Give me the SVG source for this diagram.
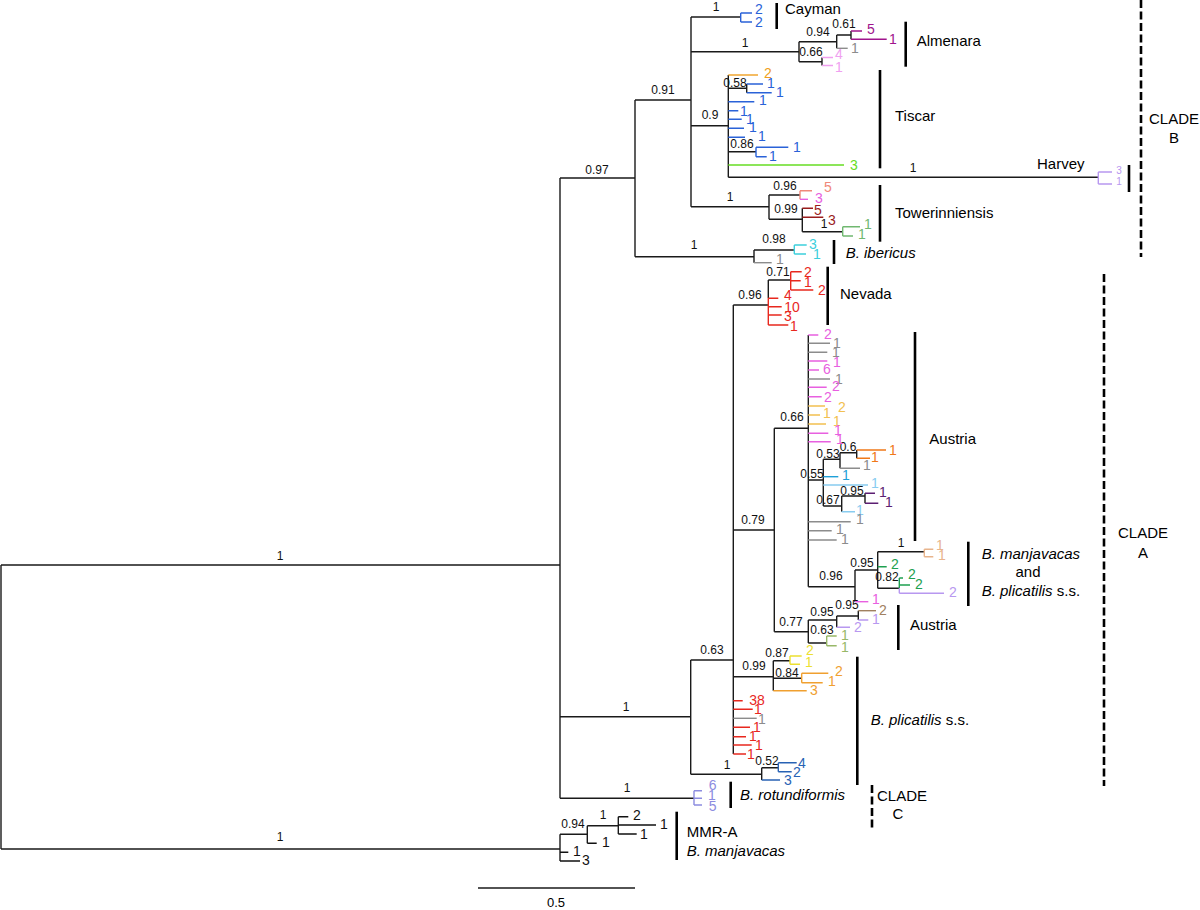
<svg xmlns="http://www.w3.org/2000/svg" width="1200" height="910" viewBox="0 0 1200 910">
<style>
path{fill:none !important}
text{stroke:none !important;font-family:"Liberation Sans",Arial,sans-serif}
.e{stroke:#1a1a1a;stroke-width:1.4}
.bar{stroke:#000;stroke-width:2.6}
.dash{stroke:#000;stroke-width:2.6;stroke-dasharray:8 3.5}
.s{font-size:12px;text-anchor:middle;fill:#111}
.t{font-size:14px;text-anchor:middle}
.h{font-size:10px;text-anchor:middle}
.l{font-size:15px;fill:#000}
.m{text-anchor:middle}
.i{font-style:italic}
.blk{stroke:#111;fill:#111}
.blue{stroke:#2a62d8;fill:#2a62d8}
.purp{stroke:#a0148c;fill:#a0148c}
.grey{stroke:#8c8c8c;fill:#8c8c8c}
.lpink{stroke:#f0a0f0;fill:#f0a0f0}
.orng{stroke:#f0a020;fill:#f0a020}
.lime{stroke:#66dd22;fill:#66dd22}
.lav{stroke:#b898f0;fill:#b898f0}
.salm{stroke:#f0887a;fill:#f0887a}
.pink{stroke:#e860e0;fill:#e860e0}
.dred{stroke:#9a1c1c;fill:#9a1c1c}
.mgrn{stroke:#70b870;fill:#70b870}
.cyan{stroke:#3ccfdc;fill:#3ccfdc}
.red{stroke:#e8281e;fill:#e8281e}
.lorg{stroke:#f2c050;fill:#f2c050}
.dorg{stroke:#f07818;fill:#f07818}
.cyn2{stroke:#1ea0d8;fill:#1ea0d8}
.lblu{stroke:#88ccf0;fill:#88ccf0}
.dprp{stroke:#5c1e72;fill:#5c1e72}
.tan{stroke:#e8b48c;fill:#e8b48c}
.grn{stroke:#1ea050;fill:#1ea050}
.brwn{stroke:#a08060;fill:#a08060}
.olv{stroke:#98b868;fill:#98b868}
.yel{stroke:#ece030;fill:#ece030}
.orn2{stroke:#f0a030;fill:#f0a030}
.dblu{stroke:#2862b4;fill:#2862b4}
.rlav{stroke:#8c8ce0;fill:#8c8ce0}
path.blue,path.purp,path.grey,path.lpink,path.orng,path.lime,path.lav,path.salm,path.pink,path.dred,path.mgrn,path.cyan,path.red,path.lorg,path.dorg,path.cyn2,path.lblu,path.dprp,path.tan,path.grn,path.brwn,path.olv,path.yel,path.orn2,path.dblu,path.rlav,path.blk{stroke-width:1.4}
</style>
<rect width="1200" height="910" fill="#fff"/>

<g id="connectors" class="e">
<path d="M1,565V849M1,565H560M1,849H560"/>
<path d="M560,178V798.3M560,178H635M635,100V256.7M635,100H691M691,17V206.7"/>
<path d="M691,17H740.7"/>
<path d="M691,51.7H799M799,41.7V61.7M799,41.7H836.7M836.7,35V48.3M836.7,35H851M851,31V39.3M799,61.7H822M822,57.5V65.5"/>
<path d="M691,125.7H728.3M728.3,75V177.3M728.3,88.3H746.7M746.7,84V92.7M728.3,151.7H756M728.3,177.3H1098.3"/>
<path d="M691,206.7H769M769,195V219.3M769,195H800M769,219.3H802.3M802.3,208.3V231.7M802.3,231.7H842.7"/>
<path d="M635,256.7H754M754,250V262.7M754,250H794.3"/>
<path d="M560,716.7H690.7M690.7,660V774.3M690.7,660H733.3M733.3,305V754"/>
<path d="M733.3,305H768.3M768.3,280V298.3M768.3,280H790.7"/>
<path d="M733.3,530H774.3M774.3,428.3V631.7M774.3,428.3H808.3M808.3,335V586.7"/>
<path d="M808.3,480H823.3M823.3,459.3V506M823.3,459.3H840M840,452.7V468.3M840,452.7H856.7M856.7,450V458.3M823.3,506H841.7M841.7,496V511.7M841.7,496H865M865,493.3V503.3"/>
<path d="M808.3,586.7H855M855,570V601.7M855,570H877.7M877.7,551.7V588.3M877.7,551.7H924.3M877.7,588.3H899.3"/>
<path d="M774.3,631.7H808.3M808.3,620V643M808.3,620H836.7M836.7,616V627.3M836.7,616H858.3M858.3,610.7V620M808.3,643H826.7"/>
<path d="M733.3,676.7H773.3M773.3,660.7V690.7M773.3,660.7H790M773.3,678.3H801.7"/>
<path d="M690.7,774.3H761.7M761.7,767.7V780M761.7,767.7H778.3"/>
<path d="M560,798.3H694"/>
<path d="M560,834.3V861M560,834.3H587.3M587.3,825.7V843.3M587.3,825.7H618.3M618.3,816.7V834"/>
</g>

<g id="support-values" class="s">
<text x="280" y="560">1</text>
<text x="280" y="841">1</text>
<text x="597" y="174">0.97</text>
<text x="663" y="94">0.91</text>
<text x="716" y="11">1</text>
<text x="745" y="47">1</text>
<text x="818" y="36">0.94</text>
<text x="844" y="28">0.61</text>
<text x="811" y="56">0.66</text>
<text x="710" y="119">0.9</text>
<text x="735" y="87">0.58</text>
<text x="742" y="148">0.86</text>
<text x="913" y="172">1</text>
<text x="730" y="201">1</text>
<text x="785" y="190">0.96</text>
<text x="786" y="213">0.99</text>
<text x="824" y="228">1</text>
<text x="694" y="249">1</text>
<text x="774" y="243">0.98</text>
<text x="778" y="276">0.71</text>
<text x="750" y="299">0.96</text>
<text x="792" y="421">0.66</text>
<text x="848" y="451">0.6</text>
<text x="828" y="458">0.53</text>
<text x="812" y="478">0.55</text>
<text x="828" y="504">0.67</text>
<text x="852" y="495">0.95</text>
<text x="753" y="524">0.79</text>
<text x="901" y="547">1</text>
<text x="862" y="567">0.95</text>
<text x="887" y="581">0.82</text>
<text x="831" y="580">0.96</text>
<text x="847" y="609">0.95</text>
<text x="822" y="616">0.95</text>
<text x="791" y="626">0.77</text>
<text x="822" y="634">0.63</text>
<text x="712" y="654">0.63</text>
<text x="777" y="657">0.87</text>
<text x="754" y="670">0.99</text>
<text x="787" y="677">0.84</text>
<text x="727" y="769">1</text>
<text x="767" y="765">0.52</text>
<text x="626" y="711">1</text>
<text x="627" y="792">1</text>
<text x="573" y="828">0.94</text>
<text x="603" y="819">1</text>
</g>

<g id="cayman">
<path class="blue" d="M740.7,13V22M740.7,13H752M740.7,22H752"/>
<text class="t blue" x="759" y="13.5">2</text>
<text class="t blue" x="759" y="26.5">2</text>
<path class="bar" d="M776.7,3V29"/>
<text class="l" x="785" y="13.5">Cayman</text>
</g>

<g id="almenara">
<path class="purp" d="M851,31H862M851,39.3H886.7"/>
<path class="grey" d="M836.7,48.3H847.7"/>
<path class="lpink" d="M822,57.5H833M822,65.5H833"/>
<text class="t purp" x="871" y="34">5</text>
<text class="t purp" x="893" y="44">1</text>
<text class="t grey" x="855" y="53">1</text>
<text class="t lpink" x="839" y="59">4</text>
<text class="t lpink" x="839" y="72">1</text>
<path class="bar" d="M905.7,21.7V66.7"/>
<text class="l" x="916.7" y="45.5">Almenara</text>
</g>

<g id="tiscar">
<path class="orng" d="M728.3,75H758"/>
<path class="blue" d="M746.7,84H763M746.7,92.7H771.7M728.3,101.7H754.3M728.3,110.7H738.3M728.3,119.3H741.7M728.3,128.3H744M728.3,137.3H745M756,147.3V156.7M756,147.3H788.3M756,156.7H766.7"/>
<path class="lime" d="M728.3,165H844"/>
<text class="t orng" x="768" y="78">2</text>
<text class="t blue" x="771" y="88">1</text>
<text class="t blue" x="780" y="97">1</text>
<text class="t blue" x="763" y="105">1</text>
<text class="t blue" x="744" y="116">1</text>
<text class="t blue" x="750" y="124">1</text>
<text class="t blue" x="753" y="132">1</text>
<text class="t blue" x="762" y="141">1</text>
<text class="t blue" x="797" y="152">1</text>
<text class="t blue" x="773" y="161">1</text>
<text class="t lime" x="854" y="169.5">3</text>
<path class="bar" d="M880,70V168.3"/>
<text class="l" x="895" y="120.5">Tiscar</text>
</g>

<g id="harvey">
<path class="lav" d="M1098.3,172V184M1098.3,172H1112M1098.3,184H1112"/>
<text class="h lav" x="1119" y="174">3</text>
<text class="h lav" x="1119" y="185">1</text>
<text class="l" x="1037" y="168.5">Harvey</text>
<path class="bar" d="M1129,165V192"/>
</g>

<g id="towerinniensis">
<path class="salm" d="M800,190.7V199.3M800,190.7H812"/>
<path class="pink" d="M800,199.3H808"/>
<path class="dred" d="M802.3,208.3H813M802.3,217.3H823.3"/>
<path class="mgrn" d="M842.7,226.7V236M842.7,226.7H860M842.7,236H853"/>
<text class="t salm" x="828" y="192">5</text>
<text class="t pink" x="819" y="202.5">3</text>
<text class="t dred" x="818" y="215">5</text>
<text class="t dred" x="832" y="224.5">3</text>
<text class="t mgrn" x="868" y="229">1</text>
<text class="t mgrn" x="862" y="238.5">1</text>
<path class="bar" d="M880,185V241.7"/>
<text class="l" x="895" y="217.5">Towerinniensis</text>
</g>

<g id="ibericus">
<path class="cyan" d="M794.3,245V254M794.3,245H806.7M794.3,254H806"/>
<path class="grey" d="M754,262.7H771.7"/>
<text class="t cyan" x="813" y="249">3</text>
<text class="t cyan" x="817" y="259">1</text>
<text class="t grey" x="780" y="263.5">1</text>
<path class="bar" d="M834,240V264"/>
<text class="l i" x="845.7" y="258">B. ibericus</text>
</g>

<g id="clade-b">
<path class="dash" d="M1141,0V257"/>
<text class="l m" x="1174" y="123.5">CLADE</text>
<text class="l m" x="1174" y="142.5">B</text>
</g>

<g id="nevada">
<path class="red" d="M768.3,298.3V325M790.7,271.7V290M790.7,271.7H801.7M790.7,280.7H800.7M790.7,290H813.3M768.3,298.3H778.3M768.3,306.7H781.7M768.3,315H781.7M768.3,325H788.3"/>
<text class="t red" x="808" y="277">2</text>
<text class="t red" x="808" y="287">1</text>
<text class="t red" x="822" y="295">2</text>
<text class="t red" x="788" y="300">4</text>
<text class="t red" x="792" y="312">10</text>
<text class="t red" x="788" y="321">3</text>
<text class="t red" x="794" y="331">1</text>
<path class="bar" d="M827.7,266.7V325"/>
<text class="l" x="840" y="298.8">Nevada</text>
</g>

<g id="austria">
<path class="pink" d="M808.3,335H818.3M808.3,361H827.3M808.3,370H819M808.3,387.3H826.7M808.3,396.7H821.7M808.3,433.3H828.3M808.3,441.7H830.7"/>
<path class="grey" d="M808.3,343.3H830M808.3,352.3H827.3M808.3,379H830M808.3,521.7H850.7M808.3,530.7H831.7M808.3,540H836.7M840,468.3H860"/>
<path class="lorg" d="M808.3,406H825M808.3,415H820M808.3,424H826"/>
<path class="dorg" d="M856.7,450H886M856.7,458.3H870"/>
<path class="cyn2" d="M823.3,476.7H838.3"/>
<path class="lblu" d="M823.3,485H868M841.7,511.7H855"/>
<path class="dprp" d="M865,493.3H875M865,503.3H878.3"/>
<text class="t pink" x="828" y="339">2</text>
<text class="t grey" x="837" y="348">1</text>
<text class="t grey" x="836" y="357">1</text>
<text class="t pink" x="837" y="367">1</text>
<text class="t pink" x="827" y="374">6</text>
<text class="t grey" x="839" y="384">1</text>
<text class="t pink" x="836" y="391">2</text>
<text class="t pink" x="828" y="402">2</text>
<text class="t lorg" x="842" y="412">2</text>
<text class="t lorg" x="827" y="418">1</text>
<text class="t lorg" x="837" y="426">1</text>
<text class="t pink" x="838" y="435">1</text>
<text class="t pink" x="840" y="443.5">1</text>
<text class="t dorg" x="893" y="454.5">1</text>
<text class="t dorg" x="875" y="462">1</text>
<text class="t grey" x="867" y="470">1</text>
<text class="t cyn2" x="846" y="480">1</text>
<text class="t lblu" x="875" y="488">1</text>
<text class="t dprp" x="883" y="497">1</text>
<text class="t dprp" x="889" y="507">1</text>
<text class="t lblu" x="860" y="514.5">1</text>
<text class="t grey" x="860" y="523.5">1</text>
<text class="t grey" x="840" y="533.5">1</text>
<text class="t grey" x="845" y="543.5">1</text>
<path class="bar" d="M915,332V541"/>
<text class="l" x="929.3" y="443.8">Austria</text>
</g>

<g id="manjavacas-plicatilis">
<path class="tan" d="M924.3,549.3V556.7M924.3,549.3H933.3M924.3,556.7H933.3"/>
<path class="grn" d="M877.7,566.7H886.7M899.3,578V588.3M899.3,578H903M899.3,585H910"/>
<path class="lav" d="M899.3,588.3V593.3M899.3,593.3H944"/>
<path class="pink" d="M855,601.7H868.3"/>
<text class="t tan" x="940" y="550">1</text>
<text class="t tan" x="942" y="560">1</text>
<text class="t grn" x="895" y="568.5">2</text>
<text class="t grn" x="912" y="578.5">2</text>
<text class="t grn" x="919" y="589">2</text>
<text class="t lav" x="953" y="597">2</text>
<text class="t pink" x="876" y="603.5">1</text>
<path class="bar" d="M968.3,541.7V606"/>
<text class="l i" x="981.7" y="558.8">B. manjavacas</text>
<text class="l m" x="1028" y="577">and</text>
<text class="l" x="981.7" y="595.5"><tspan class="i">B. plicatilis</tspan> s.s.</text>
</g>

<g id="austria-2">
<path class="brwn" d="M858.3,610.7H876"/>
<path class="lav" d="M858.3,620H868.3M836.7,627.3H850"/>
<path class="olv" d="M826.7,636V645.7M826.7,636H836.7M826.7,645.7H836.7"/>
<text class="t brwn" x="883" y="614.5">2</text>
<text class="t lav" x="876" y="623.5">1</text>
<text class="t lav" x="858" y="632">2</text>
<text class="t olv" x="845" y="640">1</text>
<text class="t olv" x="845" y="652">1</text>
<path class="bar" d="M898.3,605V650"/>
<text class="l" x="910" y="629.5">Austria</text>
</g>

<g id="plicatilis">
<path class="yel" d="M790,656V664.3M790,656H801.7M790,664.3H800"/>
<path class="orn2" d="M801.7,673.3V682.7M801.7,673.3H828.3M801.7,682.7H822.7M773.3,690.7H806.7"/>
<path class="red" d="M733.3,700.7H742.7M733.3,709.3H752.7M733.3,727.3H750M733.3,736.7H746M733.3,745H751.7M733.3,754H746"/>
<path class="grey" d="M733.3,718.3H756.7"/>
<path class="dblu" d="M778.3,762.7V771.7M778.3,762.7H796.7M778.3,771.7H791.7M761.7,780H780"/>
<text class="t yel" x="810" y="655">2</text>
<text class="t yel" x="809" y="667">1</text>
<text class="t orn2" x="839" y="676">2</text>
<text class="t orn2" x="832" y="686">1</text>
<text class="t orn2" x="814" y="695">3</text>
<text class="t red" x="757" y="705">38</text>
<text class="t red" x="758" y="714">1</text>
<text class="t grey" x="762" y="723.5">1</text>
<text class="t red" x="757" y="732">1</text>
<text class="t red" x="753" y="741">1</text>
<text class="t red" x="759" y="749.5">1</text>
<text class="t red" x="751" y="758.5">1</text>
<text class="t dblu" x="802" y="767.5">4</text>
<text class="t dblu" x="797" y="777">2</text>
<text class="t dblu" x="788" y="785">3</text>
<path class="bar" d="M857.3,656.7V785"/>
<text class="l" x="870.7" y="724.8"><tspan class="i">B. plicatilis</tspan> s.s.</text>
</g>

<g id="clade-a">
<path class="dash" d="M1104,274V786"/>
<text class="l m" x="1143" y="537.5">CLADE</text>
<text class="l m" x="1143" y="557.5">A</text>
</g>

<g id="rotundiformis">
<path class="rlav" d="M694,790.7V805M694,790.7H702M694,798.3H702M694,805H702"/>
<text class="t rlav" x="712.7" y="790">6</text>
<text class="t rlav" x="712" y="800">1</text>
<text class="t rlav" x="712.7" y="811">5</text>
<path class="bar" d="M730.7,781.7V808"/>
<text class="l i" x="740" y="799.8">B. rotundiformis</text>
</g>

<g id="clade-c">
<path class="dash" d="M872,785V830"/>
<text class="l" x="877" y="800.5">CLADE</text>
<text class="l m" x="898" y="818.5">C</text>
</g>

<g id="mmr-a">
<path class="blk" d="M618.3,816.7H628.3M618.3,825H656M618.3,834H636.7M587.3,843.3H596.7M560,852.3H568.3M560,861H580"/>
<text class="t blk" x="637" y="820">2</text>
<text class="t blk" x="664" y="828.5">1</text>
<text class="t blk" x="644" y="838.5">1</text>
<text class="t blk" x="606" y="847">1</text>
<text class="t blk" x="577" y="856">1</text>
<text class="t blk" x="586" y="865">3</text>
<path class="bar" d="M676.7,811.7V860"/>
<text class="l" x="686.7" y="837.2">MMR-A</text>
<text class="l i" x="686.7" y="855.5">B. manjavacas</text>
</g>

<g id="scale-bar">
<path class="e" d="M478,888H635"/>
<text class="m" x="556" y="906.5" font-size="13">0.5</text>
</g>
</svg>
